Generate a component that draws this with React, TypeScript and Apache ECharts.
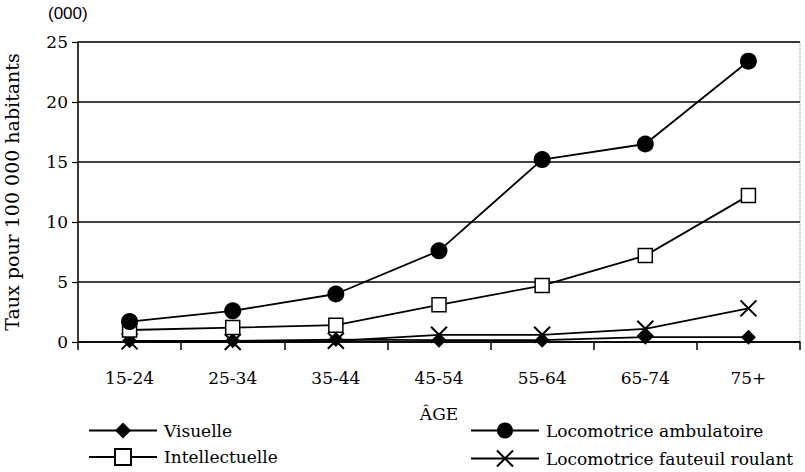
import React, { useEffect, useRef } from "react";
import * as echarts from "echarts";

const categories = ["15-24", "25-34", "35-44", "45-54", "55-64", "65-74", "75+"];
const visuelle = [0.1, 0.1, 0.2, 0.15, 0.15, 0.4, 0.4];
const intellectuelle = [1.0, 1.2, 1.4, 3.1, 4.7, 7.2, 12.2];
const ambulatoire = [1.7, 2.6, 4.0, 7.6, 15.2, 16.5, 23.4];
const fauteuil = [0.05, 0.0, 0.1, 0.6, 0.6, 1.1, 2.8];

const SERIF = "'DejaVu Serif', 'Liberation Serif', serif";
const X_PATH = "path://M0,0L10,10M10,0L0,10";

export default function App() {
  const ref = useRef<HTMLDivElement>(null);
  useEffect(() => {
    document.body.style.margin = "0";
    if (!ref.current) return;
    const chart = echarts.init(ref.current, undefined, { renderer: "svg" });
    const lineStyle = { color: "#000", width: 1.8 };
    const legendText = { fontFamily: SERIF, fontSize: 17, color: "#000", padding: [0, 0, 0, 2] };
    chart.setOption({
      animation: false,
      backgroundColor: "#fff",
      textStyle: { fontFamily: SERIF, color: "#000" },
      grid: {
        left: 78,
        right: 5,
        top: 42,
        bottom: 130,
        containLabel: false,
        outerBoundsMode: "none",
        show: true,
        borderColor: "#888",
        borderWidth: 1,
        borderType: "dotted",
      },
      graphic: [
        {
          type: "text",
          left: 48,
          top: 5,
          style: {
            text: "(000)",
            font: "17px 'Liberation Sans', Arial, sans-serif",
            fill: "#000",
          },
        },
      ],
      legend: [
        {
          orient: "vertical",
          left: 88,
          top: 422,
          padding: 0,
          itemGap: 9,
          itemWidth: 68,
          itemHeight: 20,
          data: ["Visuelle", "Intellectuelle"],
          textStyle: legendText,
        },
        {
          orient: "vertical",
          left: 470,
          top: 422,
          padding: 0,
          itemGap: 9,
          itemWidth: 68,
          itemHeight: 20,
          data: ["Locomotrice ambulatoire", "Locomotrice fauteuil roulant"],
          textStyle: legendText,
        },
      ],
      xAxis: {
        type: "category",
        data: categories,
        boundaryGap: true,
        name: "ÂGE",
        nameLocation: "middle",
        nameGap: 63,
        nameTextStyle: { fontFamily: SERIF, fontSize: 17, color: "#000" },
        axisLine: { lineStyle: { color: "#000", width: 1.5 } },
        axisTick: { show: true, length: 8, interval: 0, lineStyle: { color: "#000", width: 1.5 } },
        axisLabel: { fontFamily: SERIF, fontSize: 17, color: "#000", margin: 27, interval: 0 },
        splitLine: { show: false },
      },
      yAxis: {
        type: "value",
        min: 0,
        max: 25,
        interval: 5,
        name: "Taux pour 100 000 habitants",
        nameLocation: "middle",
        nameGap: 57,
        nameTextStyle: { fontFamily: SERIF, fontSize: 19, color: "#000" },
        axisLine: { show: true, lineStyle: { color: "#000", width: 1.5 } },
        axisTick: { show: true, length: 6, lineStyle: { color: "#000", width: 1.2 } },
        axisLabel: { fontFamily: SERIF, fontSize: 17, color: "#000", margin: 10 },
        splitLine: { show: true, lineStyle: { color: "#000", width: 1.5 } },
      },
      series: [
        {
          name: "Locomotrice fauteuil roulant",
          type: "line",
          data: fauteuil,
          symbol: X_PATH,
          symbolSize: 16,
          lineStyle,
          itemStyle: { color: "none", borderColor: "#000", borderWidth: 2 },
          z: 2,
        },
        {
          name: "Visuelle",
          type: "line",
          data: visuelle,
          symbol: "diamond",
          symbolSize: 15,
          lineStyle,
          itemStyle: { color: "#000" },
          z: 3,
        },
        {
          name: "Intellectuelle",
          type: "line",
          data: intellectuelle,
          symbol: "rect",
          symbolSize: 14,
          lineStyle,
          itemStyle: { color: "#fff", borderColor: "#000", borderWidth: 1.5 },
          z: 4,
        },
        {
          name: "Locomotrice ambulatoire",
          type: "line",
          data: ambulatoire,
          symbol: "circle",
          symbolSize: 17,
          lineStyle,
          itemStyle: { color: "#000" },
          z: 5,
        },
      ],
    });
    return () => chart.dispose();
  }, []);
  return <div ref={ref} style={{ width: 805, height: 472 }} />;
}
